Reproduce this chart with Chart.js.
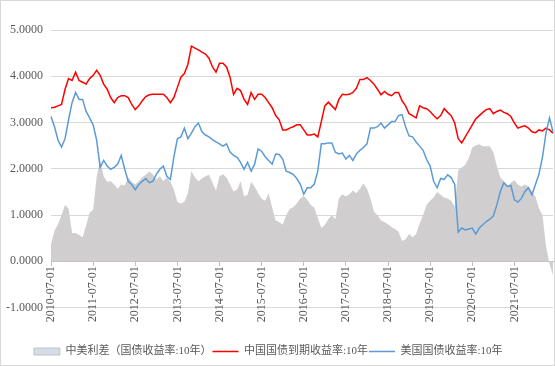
<!DOCTYPE html>
<html>
<head>
<meta charset="utf-8">
<script src="https://cdn.jsdelivr.net/npm/chart.js@4.4.0/dist/chart.umd.min.js"></script>
<style>
  html, body { margin: 0; padding: 0; background: #fff; }
  #wrap { width: 555px; height: 366px; position: relative; }
</style>
</head>
<body>
<div id="wrap"><canvas id="myChart"></canvas></div>
<script>
// monthly readings, first month 2010-07, last month 2022-06
const firstYear = 2010, firstMonth = 7;

const tickLabels = ["2010-07-01", "2011-07-01", "2012-07-01", "2013-07-01", "2014-07-01", "2015-07-01",
  "2016-07-01", "2017-07-01", "2018-07-01", "2019-07-01", "2020-07-01", "2021-07-01"];

const yTicks = [-1, 0, 1, 2, 3, 4, 5];

// 中美利差
const spread = [
  0.37, 0.66, 0.80, 1.00, 1.22, 1.14, 0.61, 0.61, 0.57, 0.52, 0.77, 1.05,
  1.11, 1.82, 2.18, 1.84, 1.72, 1.73, 1.66, 1.57, 1.66, 1.64, 1.81, 1.72,
  1.66, 1.73, 1.82, 1.87, 1.94, 1.88, 1.77, 1.84, 1.73, 1.81, 1.72, 1.55,
  1.28, 1.25, 1.29, 1.47, 1.95, 1.81, 1.73, 1.79, 1.84, 1.87, 1.70, 1.53,
  1.84, 1.88, 1.81, 1.66, 1.51, 1.55, 1.73, 1.40, 1.44, 1.72, 1.62, 1.47,
  1.35, 1.31, 1.47, 1.16, 0.88, 0.85, 0.79, 1.00, 1.13, 1.17, 1.25, 1.36,
  1.42, 1.33, 1.22, 1.16, 0.94, 0.72, 0.79, 0.91, 1.00, 0.91, 1.36, 1.45,
  1.40, 1.45, 1.53, 1.47, 1.57, 1.68, 1.57, 1.36, 1.07, 1.00, 0.88, 0.85,
  0.80, 0.74, 0.70, 0.64, 0.44, 0.48, 0.59, 0.52, 0.59, 0.81, 1.00, 1.22,
  1.31, 1.38, 1.50, 1.44, 1.38, 1.36, 1.31, 1.18, 1.97, 2.03, 2.08, 2.23,
  2.46, 2.51, 2.53, 2.49, 2.49, 2.49, 2.36, 2.06, 1.81, 1.73, 1.62, 1.70,
  1.75, 1.66, 1.62, 1.66, 1.62, 1.51, 1.40, 1.14, 1.00, 0.33, -0.05, -0.30
];

// 中国国债到期收益率:10年
const cn10y = [
  3.32, 3.33, 3.36, 3.39, 3.72, 3.95, 3.91, 4.09, 3.91, 3.87, 3.83, 3.95,
  4.02, 4.13, 4.02, 3.83, 3.72, 3.54, 3.43, 3.54, 3.58, 3.58, 3.54, 3.39,
  3.28, 3.36, 3.47, 3.56, 3.60, 3.61, 3.61, 3.61, 3.61, 3.54, 3.43, 3.54,
  3.76, 3.98, 4.06, 4.26, 4.65, 4.61, 4.57, 4.52, 4.48, 4.39, 4.20, 4.09,
  4.28, 4.28, 4.20, 3.98, 3.61, 3.74, 3.69, 3.50, 3.39, 3.65, 3.50, 3.61,
  3.61, 3.54, 3.43, 3.32, 3.15, 3.06, 2.84, 2.84, 2.88, 2.91, 2.95, 2.95,
  2.84, 2.73, 2.73, 2.75, 2.69, 3.02, 3.36, 3.44, 3.36, 3.28, 3.50, 3.61,
  3.60, 3.61, 3.65, 3.74, 3.93, 3.93, 3.97, 3.91, 3.83, 3.72, 3.60, 3.67,
  3.61, 3.58, 3.65, 3.65, 3.47, 3.36, 3.19, 3.15, 3.10, 3.36, 3.32, 3.30,
  3.24, 3.15, 3.08, 3.15, 3.30, 3.22, 3.15, 2.99, 2.65, 2.56, 2.69, 2.82,
  2.95, 3.08, 3.15, 3.22, 3.28, 3.30, 3.19, 3.24, 3.27, 3.22, 3.19, 3.13,
  2.99, 2.88, 2.91, 2.93, 2.88, 2.80, 2.78, 2.84, 2.82, 2.88, 2.84, 2.77
];

// 美国国债收益率:10年
const us10y = [
  3.13, 2.91, 2.62, 2.47, 2.65, 3.06, 3.43, 3.65, 3.50, 3.50, 3.24, 3.10,
  2.95, 2.62, 2.03, 2.18, 2.06, 1.99, 2.03, 2.10, 2.29, 1.99, 1.73, 1.66,
  1.55, 1.66, 1.73, 1.79, 1.70, 1.73, 1.88, 1.99, 2.06, 1.84, 1.77, 2.25,
  2.65, 2.69, 2.88, 2.65, 2.77, 2.91, 2.99, 2.80, 2.73, 2.69, 2.63, 2.58,
  2.54, 2.49, 2.54, 2.36, 2.29, 2.25, 2.14, 1.99, 2.14, 1.95, 2.10, 2.43,
  2.38, 2.26, 2.18, 2.10, 2.32, 2.31, 2.21, 1.95, 1.92, 1.88, 1.79, 1.67,
  1.45, 1.59, 1.59, 1.67, 1.95, 2.54, 2.54, 2.56, 2.56, 2.36, 2.32, 2.34,
  2.21, 2.29, 2.18, 2.32, 2.40, 2.46, 2.54, 2.88, 2.88, 2.91, 2.99, 2.88,
  2.95, 3.02, 3.02, 3.15, 3.17, 2.91, 2.71, 2.69, 2.58, 2.49, 2.40, 2.20,
  2.06, 1.73, 1.59, 1.79, 1.77, 1.87, 1.81, 1.66, 0.63, 0.72, 0.68, 0.70,
  0.72, 0.59, 0.72, 0.79, 0.86, 0.91, 0.98, 1.22, 1.51, 1.70, 1.62, 1.64,
  1.33, 1.28, 1.36, 1.51, 1.59, 1.44, 1.66, 1.88, 2.25, 2.77, 3.10, 2.80
];

const months = [];
for (let i = 0; i < cn10y.length; i++) {
  const t = firstMonth - 1 + i;
  const y = firstYear + Math.floor(t / 12);
  const m = (t % 12) + 1;
  months.push(`${y}-${m < 10 ? "0" + m : m}`);
}

const numFont = "'Liberation Serif', 'Noto Sans CJK SC', serif";
const textColor = "#595959";

const borderPlugin = {
  id: "outerBorder",
  beforeDraw: (chart) => {
    const ctx = chart.ctx;
    ctx.save();
    ctx.fillStyle = "#ffffff";
    ctx.fillRect(0, 0, chart.width, chart.height);
    ctx.strokeStyle = "#d9d9d9";
    ctx.lineWidth = 1;
    ctx.strokeRect(0.5, 0.5, chart.width - 1, chart.height - 1);
    ctx.restore();
  },
};

const isTick = (i) => tickLabels.includes(months[i] + "-01");

let canvas = document.getElementById("myChart").getContext("2d");
let myChart = new Chart(canvas, {
  type: "line",
  data: {
    labels: months,
    datasets: [
      {
        label: "中美利差（国债收益率:10年）",
        data: spread,
        backgroundColor: "#d0cece",
        borderWidth: 0,
        fill: "origin",
        pointRadius: 0,
        pointStyle: "rect",
        order: 2,
      },
      {
        label: "中国国债到期收益率:10年",
        data: cn10y,
        borderColor: "#ff0000",
        backgroundColor: "#ff0000",
        borderWidth: 1.5,
        fill: false,
        pointRadius: 0,
        pointStyle: "line",
        order: 1,
      },
      {
        label: "美国国债收益率:10年",
        data: us10y,
        borderColor: "#5b9bd5",
        backgroundColor: "#5b9bd5",
        borderWidth: 1.5,
        fill: false,
        pointRadius: 0,
        pointStyle: "line",
        order: 0,
      },
    ],
  },
  options: {
    responsive: true,
    maintainAspectRatio: false,
    animation: false,
    layout: { padding: { top: 30, right: 2, left: 0, bottom: -1 } },
    elements: { line: { tension: 0 } },
    scales: {
      x: {
        type: "category",
        position: { y: 0 },
        offset: false,
        grid: {
          drawOnChartArea: false,
          drawTicks: true,
          tickLength: 4,
          color: (ctx) => (isTick(ctx.index) ? "#bfbfbf" : "rgba(0,0,0,0)"),
        },
        border: { display: true, color: "#bfbfbf", width: 1 },
        ticks: {
          autoSkip: false,
          minRotation: 90,
          maxRotation: 90,
          padding: 1,
          color: textColor,
          font: { family: numFont, size: 12 },
          callback: (val, i) => (isTick(i) ? months[i] + "-01" : ""),
        },
        afterFit: (scale) => {
          scale.paddingLeft = 0;
          scale.paddingRight = 0;
        },
      },
      y: {
        min: -1,
        max: 5,
        afterBuildTicks: (scale) => {
          scale.ticks = yTicks.map((v) => ({ value: v }));
        },
        grid: { color: "#d9d9d9", drawTicks: false },
        border: { display: false },
        ticks: {
          padding: 8,
          color: textColor,
          font: { family: numFont, size: 12 },
          callback: (v) => Number(v).toFixed(4),
        },
        afterFit: (scale) => {
          scale.width = 51;
        },
      },
    },
    plugins: {
      tooltip: { enabled: false },
      legend: {
        position: "bottom",
        title: { display: true, text: "", padding: { top: 23, bottom: 0 } },
        labels: {
          usePointStyle: true,
          pointStyleWidth: 26,
          boxHeight: 7,
          padding: 1,
          color: textColor,
          font: { family: numFont, size: 11 },
          sort: (a, b) => a.datasetIndex - b.datasetIndex,
          generateLabels: (chart) => {
            const items = Chart.defaults.plugins.legend.labels.generateLabels(chart);
            items.forEach((it) => {
              if (it.datasetIndex === 0) {
                it.fillStyle = "#d6dce5";
                it.strokeStyle = "#b4bac4";
                it.lineWidth = 0.8;
              }
              if (it.datasetIndex === 2) {
                // pad the row on the right so it sits a little left of centre, as in the original
                it.text = it.text + "\u2003\u2002";
              }
            });
            return items;
          },
        },
      },
    },
  },
  plugins: [borderPlugin],
});
</script>
</body>
</html>
